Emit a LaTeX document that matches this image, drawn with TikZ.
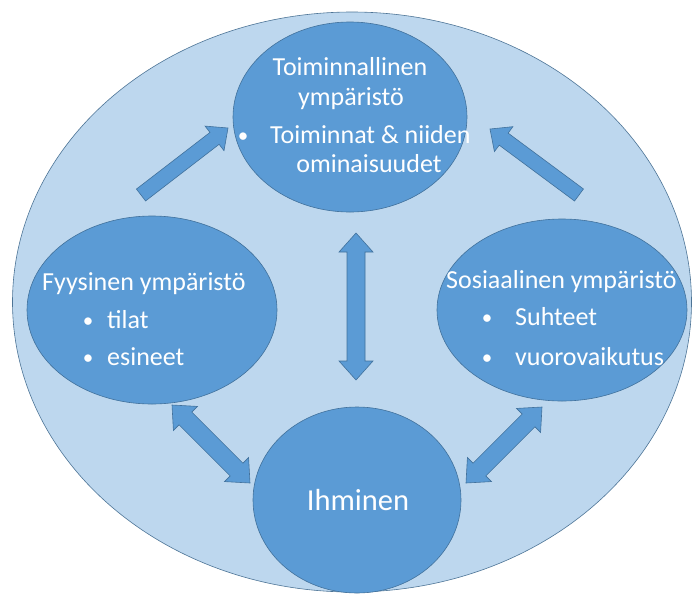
\documentclass[tikz,border=0pt]{standalone}
\usepackage{fontspec}
\setmainfont{Carlito}
\usetikzlibrary{shapes.geometric,calc}
\definecolor{taustasin}{HTML}{BDD7EE}
\definecolor{solmusin}{HTML}{5B9BD5}
\definecolor{reunasin}{HTML}{41719C}
\begin{document}
\begin{tikzpicture}[x=1pt, y=-1pt,
    kehys/.style={ellipse, draw=reunasin, line width=0.6pt, fill=solmusin, inner sep=0pt},
    teksti/.style={text=white, inner sep=0pt, font=\fontsize{26}{30}\selectfont},
    pallo/.style={teksti, anchor=base, font=\fontsize{21}{30}\selectfont},
    nuoli/.style={fill=solmusin, draw=reunasin, line width=0.6pt, line join=miter}]
  \useasboundingbox (0,0) rectangle (693,595);

  % iso tausta-ellipsi
  \node[kehys, fill=taustasin, draw=reunasin!80!gray, minimum width=679pt, minimum height=580pt] (ymp) at (352,302) {};

  % neljä ympäristöä
  \node[kehys, minimum width=234pt, minimum height=190pt] (toi) at (350,117) {};
  \node[kehys, minimum width=250pt, minimum height=188pt] (fyy) at (152,310) {};
  \node[kehys, minimum width=250pt, minimum height=182pt] (sos) at (562,310) {};
  \node[kehys, minimum width=208pt, minimum height=186pt] (ihm) at (357,500) {};

  % nuolten päät
  \coordinate (n1a) at (141,195); \coordinate (n1b) at (228,128);
  \coordinate (n2a) at (579,195); \coordinate (n2b) at (490,129);
  \coordinate (n3a) at (356,233); \coordinate (n3b) at (356,380);
  \coordinate (n4a) at (172,405); \coordinate (n4b) at (250,483);
  \coordinate (n5a) at (466,483); \coordinate (n5b) at (542,407);

  % yksisuuntaiset nuolet
  \foreach \p/\q in {n1a/n1b, n2a/n2b} {
    \coordinate (k) at ($(\q)!17pt!(\p)$);
    \filldraw[nuoli] ($(\p)!7.5pt!90:(\q)$) -- ($(k)!7.5pt!90:(\q)$) -- ($(k)!15.5pt!90:(\q)$)
      -- (\q) -- ($(k)!15.5pt!-90:(\q)$) -- ($(k)!7.5pt!-90:(\q)$) -- ($(\p)!7.5pt!-90:(\q)$) -- cycle;
  }

  % kaksisuuntaiset nuolet
  \foreach \p/\q in {n3a/n3b, n4a/n4b, n5a/n5b} {
    \coordinate (k1) at ($(\p)!19pt!(\q)$);
    \coordinate (k2) at ($(\q)!19pt!(\p)$);
    \filldraw[nuoli] (\p) -- ($(k1)!17pt!90:(\q)$) -- ($(k1)!9pt!90:(\q)$) -- ($(k2)!9pt!90:(\q)$)
      -- ($(k2)!17pt!90:(\q)$) -- (\q) -- ($(k2)!17pt!-90:(\q)$) -- ($(k2)!9pt!-90:(\q)$)
      -- ($(k1)!9pt!-90:(\q)$) -- ($(k1)!17pt!-90:(\q)$) -- cycle;
  }

  % tekstit
  \node[teksti, anchor=base] (toi1) at (350,75) {Toiminnallinen};
  \node[teksti, anchor=base] (toi2) at (351,105) {ympäristö};
  \node[pallo] (toi3) at (243,142) {•};
  \node[teksti, anchor=base west] (toi4) at (270,143) {Toiminnat \& niiden};
  \node[teksti, anchor=base] (toi5) at (369,172) {ominaisuudet};

  \node[teksti, anchor=base west] (fyy1) at (42,290) {Fyysinen ympäristö};
  \node[pallo] (fyy2) at (88,327) {•};
  \node[teksti, anchor=base west] (fyy3) at (107,328) {tilat};
  \node[pallo] (fyy4) at (88,364) {•};
  \node[teksti, anchor=base west] (fyy5) at (107,365) {esineet};

  \node[teksti, anchor=base west] (sos1) at (446,288) {Sosiaalinen ympäristö};
  \node[pallo] (sos2) at (487,324) {•};
  \node[teksti, anchor=base west] (sos3) at (515,325) {Suhteet};
  \node[pallo] (sos4) at (487,364) {•};
  \node[teksti, anchor=base west] (sos5) at (515,365) {vuorovaikutus};

  \node[teksti, anchor=base, font=\fontsize{30.5}{36}\selectfont] (ihm1) at (358,510) {Ihminen};
\end{tikzpicture}
\end{document}
